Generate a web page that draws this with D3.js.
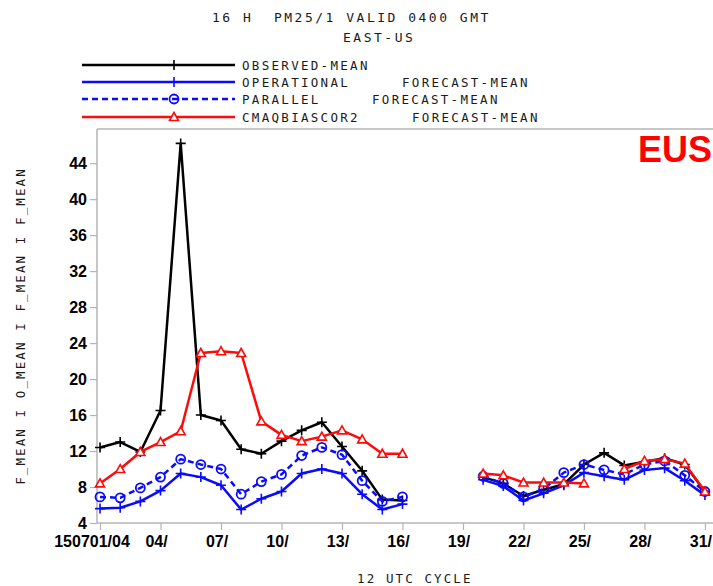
<!DOCTYPE html>
<html lang="en">

<head>
    <meta charset="UTF-8">
    <title>PM25 EAST-US</title>
    <script src="https://cdn.jsdelivr.net/npm/d3@7"></script>
    <style>
        body { margin: 0; background: #fff; }
        .mono { font-family: 'DejaVu Sans Mono', monospace; fill: #1a1a1a; white-space: pre; }
        .tick-label { font-family: 'Liberation Sans', Arial, sans-serif; font-weight: bold; font-size: 16px; fill: #000; }
    </style>
</head>

<body>
    <script>
        // days of July 2015 (12 UTC cycle)
        const days = d3.range(1, 32);

        const observed = [12.4, 13.0, 11.9, 16.5, 46.2, 16.0, 15.4, 12.2, 11.7, 13.1, 14.3, 15.2, 12.5, 9.8, 6.6, 6.5,
            null, null, null, 9.1, 8.4, 7.0, 7.7, 8.3, 10.5, 11.8, 10.4, 10.8, 11.2, 10.5, 7.5];
        const operational = [5.6, 5.7, 6.4, 7.6, 9.5, 9.1, 8.2, 5.5, 6.7, 7.5, 9.5, 10.0, 9.5, 7.2, 5.5, 6.1,
            null, null, null, 8.8, 8.1, 6.5, 7.3, 8.2, 9.6, 9.2, 8.8, 9.9, 10.1, 8.7, 7.1];
        const parallel = [6.9, 6.8, 7.9, 9.1, 11.1, 10.5, 10.0, 7.2, 8.6, 9.4, 11.5, 12.4, 11.6, 8.7, 6.4, 6.9,
            null, null, null, 9.2, 8.4, 6.9, 7.8, 9.6, 10.5, 9.9, 9.4, 10.5, 10.9, 9.3, 7.5];
        const cmaqBiasCor2 = [8.4, 10.0, 11.9, 13.0, 14.2, 22.9, 23.1, 22.9, 15.3, 13.8, 13.1, 13.6, 14.3, 13.3, 11.7, 11.7,
            null, null, null, 9.5, 9.3, 8.5, 8.5, 8.5, 8.4, null, 10.0, 10.9, 11.1, 10.6, 7.5];

        const xTickDays = d3.range(1, 32, 3);
        const xTickLabels = ['150701/04', '04/', '07/', '10/', '13/', '16/', '19/', '22/', '25/', '28/', '31/'];
        const yTickValues = d3.range(4, 45, 4);

        const seriesNames = ['OBSERVED-MEAN', 'OPERATIONAL', 'PARALLEL', 'CMAQBIASCOR2'];
        const seriesSuffix = ['', 'FORECAST-MEAN', 'FORECAST-MEAN', 'FORECAST-MEAN'];

        const series = [
            { name: seriesNames[0], values: observed, color: '#000000', dash: null, marker: 'plus' },
            { name: seriesNames[1], values: operational, color: '#0a0aff', dash: null, marker: 'plus' },
            { name: seriesNames[2], values: parallel, color: '#0a0aff', dash: '6,4', marker: 'circle' },
            { name: seriesNames[3], values: cmaqBiasCor2, color: '#ff0a0a', dash: null, marker: 'triangle' }
        ];

        const W = 713, H = 586;
        const plot = { left: 97, right: 713, top: 129, bottom: 523 };

        const svg = d3.select('body')
            .append('svg')
            .attr('width', W)
            .attr('height', H);

        const xScale = d3.scaleLinear()
            .domain([0.85, 31.4])
            .range([plot.left, plot.right]);

        const yScale = d3.scaleLinear()
            .domain([4, 47.8])
            .range([plot.bottom, plot.top]);

        // titles
        svg.append('text').attr('class', 'mono')
            .attr('x', 212).attr('y', 22)
            .style('font-size', '13px').style('letter-spacing', '2.5px')
            .text('16 H  PM25/1 VALID 0400 GMT');

        svg.append('text').attr('class', 'mono')
            .attr('x', 343).attr('y', 42)
            .style('font-size', '13px').style('letter-spacing', '2.5px')
            .text('EAST-US');

        // legend
        const legendRows = [65, 82, 99, 117];
        const suffixX = [0, 402, 372, 412];

        function drawMarker(g, type, color, cx, cy) {
            if (type === 'plus') {
                g.append('path')
                    .attr('d', `M${cx - 5},${cy}H${cx + 5}M${cx},${cy - 5}V${cy + 5}`)
                    .attr('stroke', color).attr('stroke-width', 1.6).attr('fill', 'none');
            } else if (type === 'circle') {
                g.append('circle')
                    .attr('cx', cx).attr('cy', cy).attr('r', 4.5)
                    .attr('stroke', color).attr('stroke-width', 1.8).attr('fill', 'none');
            } else {
                g.append('path')
                    .attr('d', `M${cx - 4.5},${cy + 3.5}L${cx},${cy - 4.5}L${cx + 4.5},${cy + 3.5}Z`)
                    .attr('stroke', color).attr('stroke-width', 1.6).attr('fill', '#fff');
            }
        }

        const legend = svg.append('g').attr('class', 'legend');
        series.forEach((s, i) => {
            const y = legendRows[i];
            legend.append('line')
                .attr('x1', 82).attr('x2', 235).attr('y1', y).attr('y2', y)
                .attr('stroke', s.color).attr('stroke-width', 2.5)
                .attr('stroke-dasharray', s.dash);
            drawMarker(legend, s.marker, s.color, 174, y);
            legend.append('text').attr('class', 'mono')
                .attr('x', 242).attr('y', y + 4.5)
                .style('font-size', '12.5px').style('letter-spacing', '2.3px')
                .text(s.name);
            if (seriesSuffix[i]) {
                legend.append('text').attr('class', 'mono')
                    .attr('x', suffixX[i]).attr('y', y + 4.5)
                    .style('font-size', '12.5px').style('letter-spacing', '2.3px')
                    .text(seriesSuffix[i]);
            }
        });

        // frame top
        svg.append('line')
            .attr('x1', plot.left).attr('x2', plot.right)
            .attr('y1', plot.top).attr('y2', plot.top)
            .attr('stroke', '#b4b4b4').attr('stroke-width', 1.5);

        // axes
        const xAxis = d3.axisBottom(xScale)
            .tickValues(xTickDays)
            .tickSize(7)
            .tickFormat('');
        const yAxis = d3.axisLeft(yScale)
            .tickValues(yTickValues)
            .tickSize(7)
            .tickFormat('');

        const gx = svg.append('g')
            .attr('transform', `translate(0, ${plot.bottom})`)
            .call(xAxis);
        const gy = svg.append('g')
            .attr('transform', `translate(${plot.left}, 0)`)
            .call(yAxis);

        [gx, gy].forEach(g => {
            g.select('.domain').attr('stroke', '#b4b4b4').attr('stroke-width', 1.5);
            g.selectAll('.tick line').attr('stroke', '#b4b4b4').attr('stroke-width', 1.2);
        });
        gx.select('.domain').attr('d', `M${plot.left},0H${plot.right}`);
        gy.select('.domain').attr('d', `M0,${plot.top}V${plot.bottom}`);

        svg.selectAll('.x-label')
            .data(xTickDays)
            .enter().append('text')
            .attr('class', 'tick-label')
            .attr('x', d => xScale(d))
            .attr('dx', (d, i) => i === 0 ? -8 : -4)
            .attr('y', 547)
            .attr('text-anchor', 'middle')
            .text((d, i) => xTickLabels[i]);

        svg.selectAll('.y-label')
            .data(yTickValues)
            .enter().append('text')
            .attr('class', 'tick-label')
            .attr('x', 87)
            .attr('y', d => yScale(d) + 6)
            .attr('text-anchor', 'end')
            .text(d => d);

        // axis titles
        svg.append('text').attr('class', 'mono')
            .attr('transform', 'translate(25, 326) rotate(-90)')
            .attr('text-anchor', 'middle')
            .style('font-size', '12.5px').style('letter-spacing', '2.1px')
            .text('F_MEAN I O_MEAN I F_MEAN I F_MEAN');

        svg.append('text').attr('class', 'mono')
            .attr('x', 357).attr('y', 583)
            .style('font-size', '12.5px').style('letter-spacing', '2.1px')
            .text('12 UTC CYCLE');

        // lines + markers
        const line = d3.line()
            .defined(d => d.v !== null)
            .x(d => xScale(d.day))
            .y(d => yScale(d.v));

        series.forEach(s => {
            const pts = days.map((day, i) => ({ day: day, v: s.values[i] }));
            svg.append('path')
                .datum(pts)
                .attr('d', line)
                .attr('fill', 'none')
                .attr('stroke', s.color)
                .attr('stroke-width', 2.5)
                .attr('stroke-linejoin', 'round')
                .attr('stroke-dasharray', s.dash);
            const mg = svg.append('g');
            pts.filter(p => p.v !== null).forEach(p => {
                drawMarker(mg, s.marker, s.color, xScale(p.day), yScale(p.v));
            });
        });

        // region tag
        svg.append('text')
            .attr('x', 638).attr('y', 162)
            .style('font-family', "'Liberation Sans', Arial, sans-serif")
            .style('font-weight', 'bold')
            .style('font-size', '36px')
            .attr('fill', '#ff0000')
            .text('EUS');
    </script>
</body>

</html>
